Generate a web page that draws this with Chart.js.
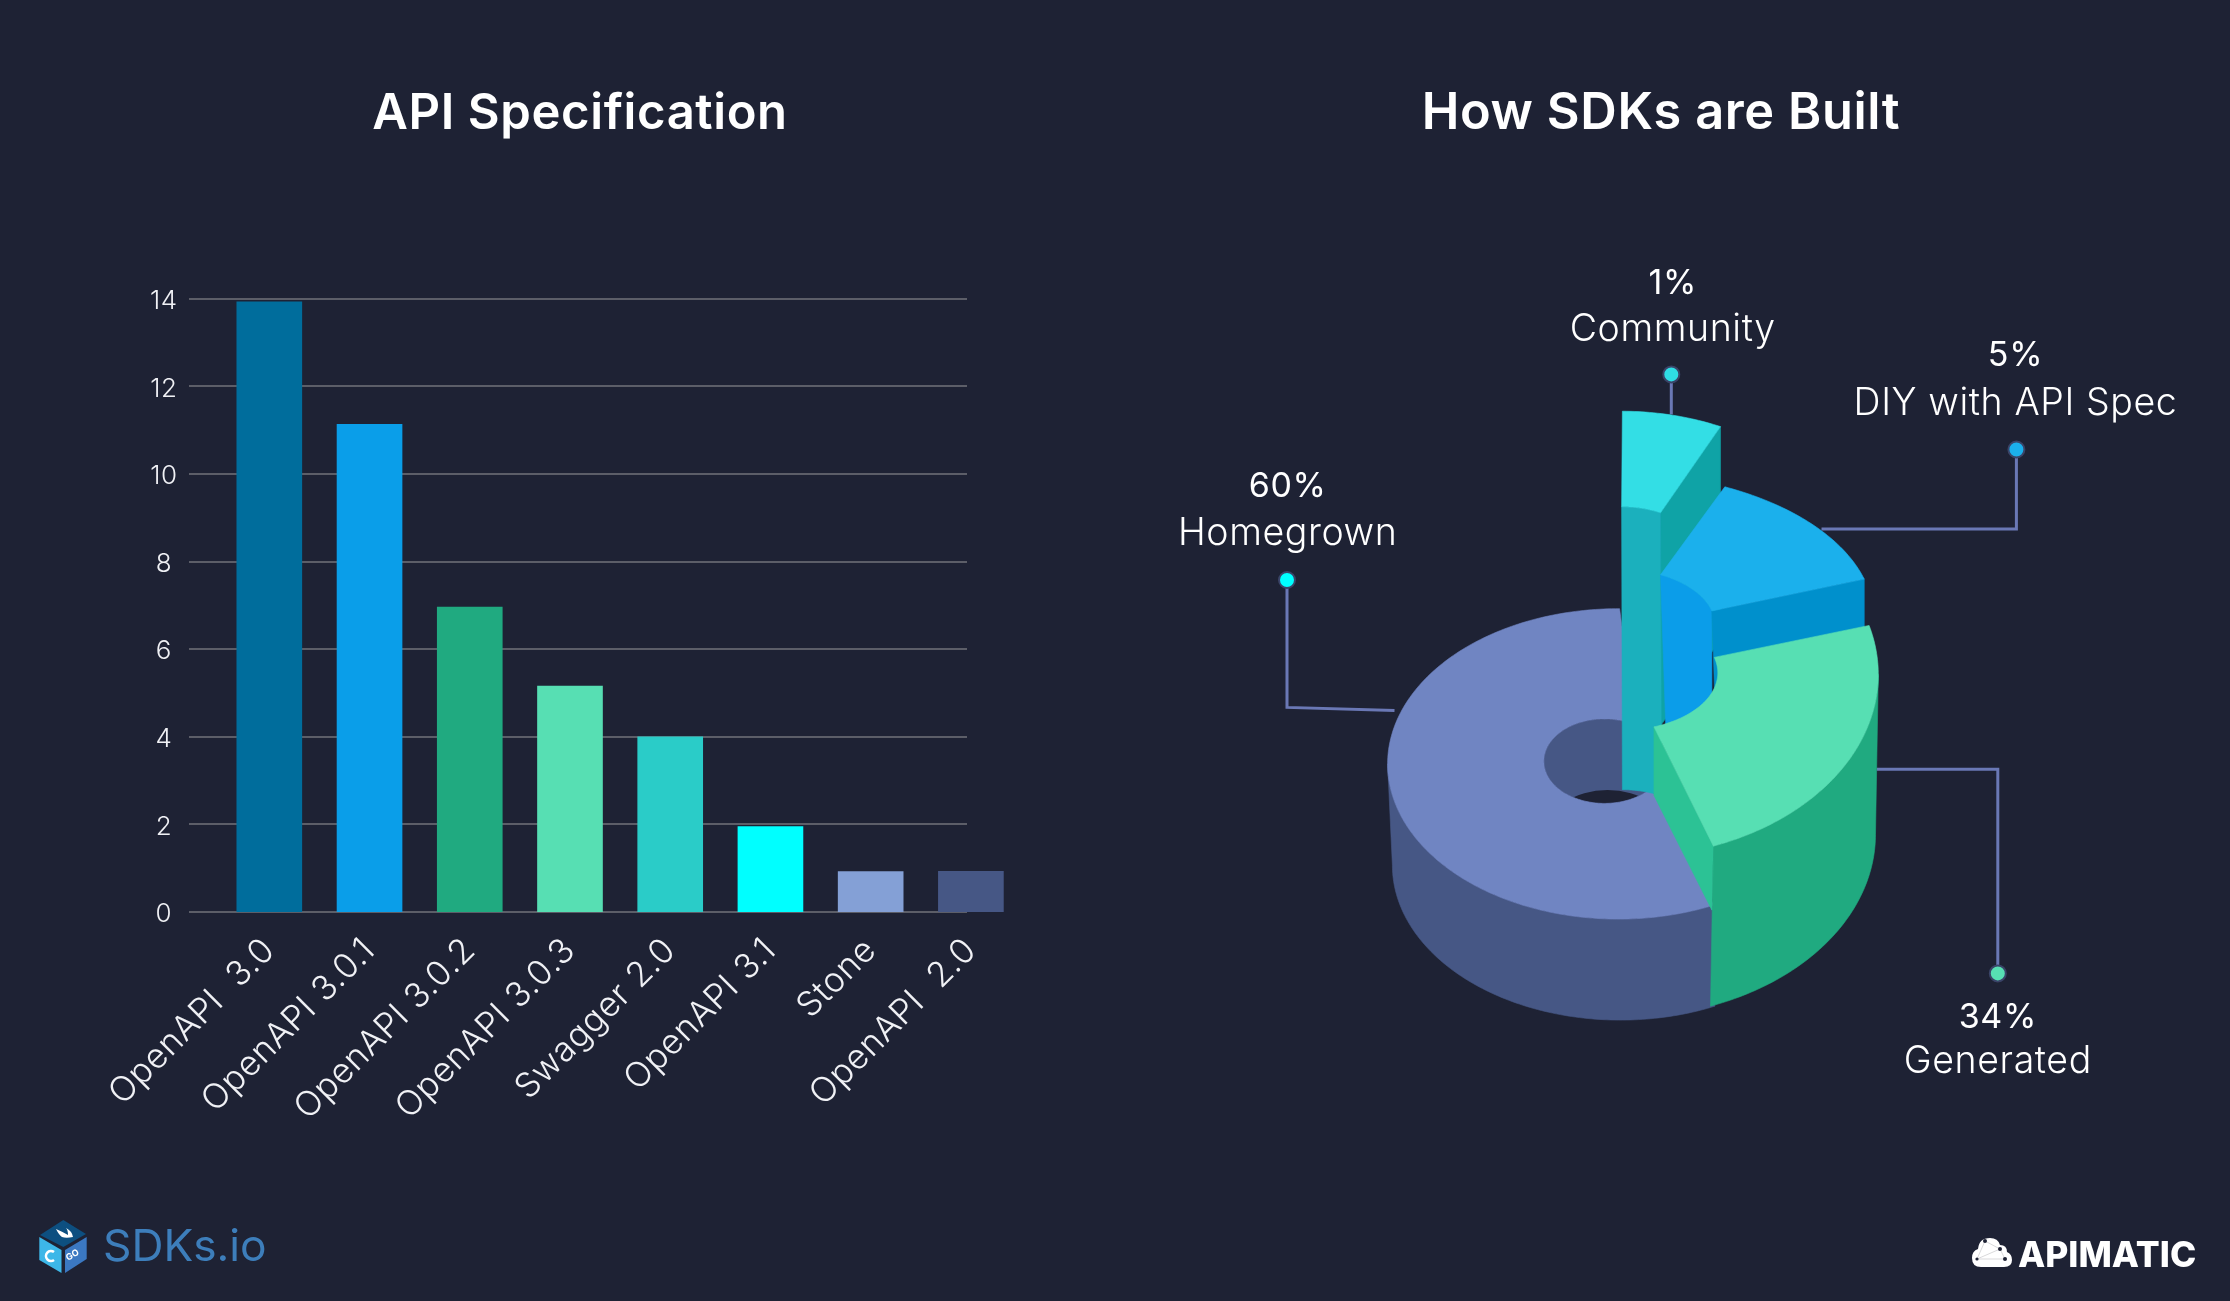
<!DOCTYPE html>
<html><head><meta charset="utf-8">
<style>
html,body{margin:0;padding:0;background:#1e2234;width:2230px;height:1301px;overflow:hidden}
canvas{position:absolute;top:0}
#barWrap{position:absolute;left:0;top:0;width:1160px;height:1301px}
#pieWrap{position:absolute;left:1092px;top:0;width:1138px;height:1301px}
svg{position:absolute;left:0;top:0}
</style>
<script src="https://cdn.jsdelivr.net/npm/chart.js@4"></script>
</head><body>
<div id="barWrap"><canvas id="bars"></canvas></div>
<div id="pieWrap"><canvas id="pie"></canvas></div>
<svg width="2230" height="1301" viewBox="0 0 2230 1301">
  <polygon points="63.3,1220 86,1234 63.3,1247 40,1235" fill="#0d4f80"/>
  <polygon points="39.3,1237 61.5,1250 61.5,1273 39.3,1260" fill="#3db7e8"/>
  <polygon points="65,1250 86.7,1237 86.7,1259 65,1273" fill="#3b78c2"/>
  <path d="M56,1229 Q63,1232 68,1235 Q68,1230 66,1228 Q72,1231 73,1237 Q66,1238.5 62,1237 Q59,1235 56,1229Z" fill="#fff"/>
  <path d="M54,1252 A5,5 0 1 0 54,1260" fill="none" stroke="#fff" stroke-width="2.6"/>
  <text x="68" y="1261" font-family="Inter" font-size="9" font-weight="700" fill="#fff" transform="rotate(-30 68 1261)">GO</text>
  <text x="103" y="1261" font-family="Inter" font-size="44.3" font-weight="400" fill="#3d7ebb">SDKs.io</text>
  <path d="M1981,1267 Q1972,1267 1972,1258 Q1972,1251 1978,1249 Q1979,1238 1990,1238 Q1998,1238 2000,1245 Q2007,1245 2007,1252 Q2012,1254 2012,1260 Q2012,1267 2004,1267Z" fill="#fff"/>
  <path d="M1977,1259 L1985,1241 L2000,1249 L2005,1259 Z M1977,1259 L2000,1249" fill="none" stroke="#c8c8cc" stroke-width="0.7"/>
  <circle cx="1985" cy="1241" r="2" fill="#1e2234"/><circle cx="2000" cy="1249" r="2" fill="#1e2234"/><circle cx="2005" cy="1259" r="2" fill="#1e2234"/><circle cx="1977" cy="1259" r="1.6" fill="#1e2234"/>
  <text x="2018" y="1267" font-family="Inter" font-size="35.4" font-weight="800" fill="#fff">APIMATIC</text>
</svg>
<script>
const barCategories = ['OpenAPI  3.0','OpenAPI 3.0.1','OpenAPI 3.0.2','OpenAPI 3.0.3','Swagger 2.0','OpenAPI 3.1','Stone','OpenAPI  2.0'];
const barValues = [13.93,11.13,6.96,5.16,4,1.95,0.92,0.93];
const barColors = ['#006d9c','#0a9ee9','#20aa80','#57dfb3','#2accc8','#00ffff','#84a0d6','#465785'];
const sdkLabels = ['Homegrown','Community','DIY with API Spec','Generated'];
const sdkPercents = [60,1,5,34];
const sdkDrawnShares = [55.7,7,13.6,23.7];
const sdkTopColors = ['#7085c2','#33dee5','#1bb0ec','#57dfb3'];
const BG = '#1e2234', FONT = 'Inter', TEXT = '#f0f1f5';
Chart.defaults.animation = false;
Chart.defaults.font.family = FONT;

/* ---------- bar chart ---------- */
const gridRange = [189, 967];
const spacedText = {id:'spaced',beforeDraw(c){c.ctx.letterSpacing='0.6px';}};
const gridPlugin = {id:'gridBehind',beforeDatasetsDraw(c){
  const y=c.scales.y, g=c.ctx; g.save(); g.strokeStyle='#5c5e68'; g.lineWidth=2;
  y.ticks.forEach(t=>{const p=Math.round(y.getPixelForValue(t.value));
    g.beginPath();g.moveTo(gridRange[0],p);g.lineTo(gridRange[1],p);g.stroke();});
  g.restore();
}};
new Chart(document.getElementById('bars'),{
  type:'bar',
  data:{labels:barCategories,datasets:[{data:barValues,backgroundColor:barColors,barThickness:65,borderWidth:0}]},
  plugins:[spacedText,gridPlugin],
  options:{responsive:true,maintainAspectRatio:false,
    layout:{padding:{left:139,right:139}},
    plugins:{legend:{display:false},tooltip:{enabled:false},
      title:{display:true,text:'API Specification',color:'#fff',
        font:{size:49,weight:'600',family:FONT,lineHeight:1.2},padding:{top:85,bottom:154.9}}},
    scales:{
      x:{grid:{display:false},border:{display:false},
        afterFit(s){s.height=389;},
        ticks:{color:TEXT,autoSkip:false,minRotation:45,maxRotation:45,padding:10,font:{size:34.5,weight:'300',family:FONT}}},
      y:{min:0,max:14,grid:{display:false,drawTicks:false},border:{display:false},
        afterFit(s){s.width=80.2;},
        ticks:{stepSize:2,color:TEXT,crossAlign:'center',padding:42,labelOffset:2.5,font:{size:26,weight:'300',family:FONT}}}
    }}
});

/* ---------- 3D doughnut: angles come from the chart's arc elements ---------- */
const SOLID_SHIFT_X = -42.7;
const solids = [
 {o:[0,0,230.7,155.2], i:[-13.8,-2.7,60.6,42.2], startExtra:-4.3, innerStart:-25.5, innerEnd:30, base:[2.1,101.5,228,154.7], wall:'#465785'},
 {o:[2.8,-194.7,230.7,158], i:[2.8,-194.7,91.6,62.5], startExtra:0, innerStart:0, innerEnd:0},
 {o:[-6.2,-145.9,261.7,145.4], i:[0.7,-137.7,96.4,57], startExtra:0, innerStart:0, innerEnd:0},
 {o:[8,-89.5,252,183], i:[2,-91.1,97.5,57.6], startExtra:0, innerStart:0, innerEnd:0, base:[5.2,70.5,252,183], wall:'#20aa80'}
];
const callouts = [
 {slice:0, dot:[1287,580],    path:[[1287,707.4],[1394.5,710.6]], text:[1287.7,487,533.5], color:'#00ffff'},
 {slice:1, dot:[1671.3,374.4],path:[[1671.3,414.4]],              text:[1672.7,284,329.5], color:'#2fdde5'},
 {slice:2, dot:[2016.4,449.5],path:[[2016.4,529],[1821.5,529]],   text:[2015.5,355.5,403.5], color:'#1bb0ec'},
 {slice:3, dot:[1997.8,973.4],path:[[1997.8,769.3],[1876.6,769.3]],text:[1997.8,1017.5,1062], color:'#57dfb3'}
];
const PIE_LEFT = 1092;
function solidPlugin(){return {id:'solid3d',
 beforeDatasetsDraw(c){
  const g=c.ctx, arcs=c.getDatasetMeta(0).data, A=arcs[0], k=A.outerRadius/230.7;
  const rad=d=>d*Math.PI/180, deg=r=>r*180/Math.PI;
  const pt=(ell,t)=>[A.x+SOLID_SHIFT_X+k*(ell[0]+ell[2]*Math.cos(rad(t))),A.y+k*(ell[1]+ell[3]*Math.sin(rad(t)))];
  const arcPts=(ell,a,b)=>{const n=Math.max(2,Math.ceil(Math.abs(b-a)));const r=[];for(let j=0;j<=n;j++)r.push(pt(ell,a+(b-a)*j/n));return r;};
  const poly=(pts,color)=>{g.beginPath();pts.forEach((p,j)=>j?g.lineTo(p[0],p[1]):g.moveTo(p[0],p[1]));g.closePath();g.fillStyle=color;g.fill();g.strokeStyle=color;g.lineWidth=0.6;g.stroke();};
  const drop=(p,dx,dy)=>[p[0]+k*dx,p[1]+k*dy];
  const range=i=>{const a=arcs[i],s=solids[i];return [deg(a.startAngle)+s.startExtra,deg(a.endAngle)];};
  const front=(a,b)=>{for(const z of [0,360]){const l=Math.max(a,z),h=Math.min(b,z+180);if(h>l)return [l,h];}return null;};
  const top=i=>{const s=solids[i],[a,b]=range(i);
    poly(arcPts(s.o,a,b).concat(arcPts(s.i,b+s.innerEnd,a+s.innerStart)),sdkTopColors[i]);};
  const outerWall=i=>{const s=solids[i],[a,b]=range(i),f=front(a,b);
    poly(arcPts(s.o,f[0],f[1]).concat(arcPts(s.base,f[1],f[0])),s.wall);};

  g.save();
  g.strokeStyle='#6a78b5';g.lineWidth=3;
  callouts.forEach(o=>{g.beginPath();g.moveTo(o.dot[0]-PIE_LEFT,o.dot[1]);o.path.forEach(p=>g.lineTo(p[0]-PIE_LEFT,p[1]));g.stroke();});

  /* Homegrown */
  outerWall(0);
  const h=solids[0].i, hc=pt([h[0],h[1],0,0],0);
  g.save();g.beginPath();g.ellipse(hc[0],hc[1],k*h[2],k*h[3],0,0,Math.PI*2);
  g.fillStyle='#465785';g.fill();g.clip();
  g.beginPath();g.ellipse(hc[0]+3*k,hc[1]+71*k,k*h[2],k*h[3],0,0,Math.PI*2);g.fillStyle=BG;g.fill();g.restore();
  top(0);

  /* Community */
  {const s=solids[1],[a,b]=range(1),ib=pt(s.i,b),ob=pt(s.o,b);
   poly([ib,ob,drop(ob,0,213),drop(ib,0,213)],'#0fa3a6');
   const upper=arcPts(s.i,a,b),lower=arcPts(s.i,b,a).map(p=>drop(p,0.8,283));
   poly(upper.concat(lower),'#1bb0bd');
   top(1);}

  /* DIY */
  {const s=solids[2],[a,b]=range(2),ia=pt(s.i,a),ib=pt(s.i,b),ob=pt(s.o,b);
   poly(arcPts(s.i,a,b).concat([drop(ib,0,120),drop(ia,5.5,160)]),'#0b9de9');
   poly([ib,ob,drop(ob,0,64),drop(ib,3,90)],'#0090cc');
   top(2);}

  /* Generated */
  {const s=solids[3],[a,b]=range(3),ib=pt(s.i,b),ob=pt(s.o,b);
   outerWall(3);
   poly([ib,ob,drop(ob,-1.4,64),drop(ib,0,68.6)],'#2cc295');
   top(3);}
  g.restore();

  g.save();
  callouts.forEach(o=>{
    g.beginPath();g.arc(o.dot[0]-PIE_LEFT,o.dot[1],8,0,Math.PI*2);g.fillStyle=o.color;g.fill();
    g.lineWidth=2;g.strokeStyle='#3a4468';g.stroke();
    g.textAlign='center';g.textBaseline='middle';g.fillStyle='#fff';
    g.font='400 34px '+FONT;g.fillText(sdkPercents[o.slice]+'%',o.text[0]-PIE_LEFT,o.text[1]);
    g.font='300 37.5px '+FONT;g.fillText(sdkLabels[o.slice],o.text[0]-PIE_LEFT,o.text[2]);
  });
  g.restore();
  return false;
 }};}
new Chart(document.getElementById('pie'),{
  type:'doughnut',
  data:{labels:sdkLabels,datasets:[{data:sdkDrawnShares,backgroundColor:sdkTopColors,borderWidth:0,radius:230.7,cutout:'26%'}]},
  plugins:[spacedText,solidPlugin()],
  options:{responsive:true,maintainAspectRatio:false,rotation:159.8,
    plugins:{legend:{display:false},tooltip:{enabled:false},
      title:{display:true,text:'How SDKs are Built',color:'#fff',
        font:{size:50.5,weight:'600',family:FONT,lineHeight:1.2},padding:{top:84,bottom:82.2}}}}
});
</script>
</body></html>
